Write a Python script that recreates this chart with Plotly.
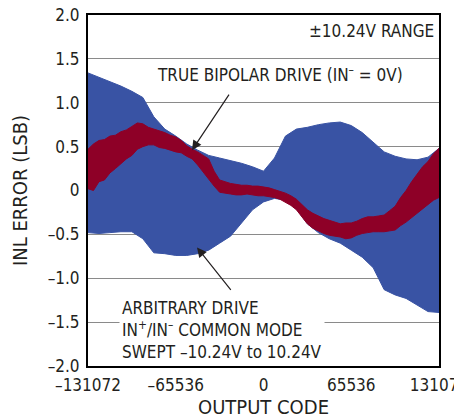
import plotly.graph_objects as go

# Output codes (x) at which the blue envelope was read
codes = [-131072 + i * 8192 for i in range(33)]

# Arbitrary drive (blue band) envelope, LSB
blue_upper = [1.34, 1.29, 1.24, 1.19, 1.13, 1.06, 0.84, 0.70, 0.62, 0.53, 0.46,
              0.40, 0.37, 0.34, 0.31, 0.27, 0.22, 0.37, 0.62, 0.70, 0.72, 0.75,
              0.77, 0.78, 0.74, 0.66, 0.55, 0.44, 0.39, 0.36, 0.35, 0.38, 0.48]
blue_lower = [-0.48, -0.49, -0.48, -0.47, -0.47, -0.55, -0.71, -0.72, -0.74, -0.74, -0.72,
              -0.68, -0.60, -0.52, -0.37, -0.22, -0.13, -0.09, -0.11, -0.21, -0.38, -0.48,
              -0.55, -0.60, -0.68, -0.76, -0.88, -1.13, -1.19, -1.23, -1.30, -1.38, -1.39]

# Output codes at which the red envelope was read
red_codes = [-131072 + i * 4096 for i in range(65)]

# True bipolar drive (red band) envelope, LSB
red_upper = [0.47, 0.53, 0.57, 0.58, 0.62, 0.63, 0.67, 0.69, 0.73, 0.77, 0.76,
             0.72, 0.70, 0.68, 0.66, 0.63, 0.61, 0.57, 0.51, 0.47, 0.44, 0.40,
             0.36, 0.22, 0.12, 0.10, 0.08, 0.07, 0.06, 0.06, 0.05, 0.05, 0.04,
             0.03, 0.01, -0.01, -0.03, -0.06, -0.10, -0.16, -0.22, -0.26, -0.29,
             -0.32, -0.34, -0.36, -0.38, -0.37, -0.37, -0.35, -0.32, -0.30, -0.30,
             -0.29, -0.28, -0.23, -0.18, -0.08, 0.00, 0.10, 0.18, 0.27, 0.33, 0.42, 0.48]
red_lower = [0.02, 0.00, 0.10, 0.12, 0.20, 0.25, 0.30, 0.36, 0.40, 0.47, 0.50,
             0.52, 0.52, 0.49, 0.48, 0.46, 0.44, 0.43, 0.39, 0.36, 0.29, 0.22,
             0.13, 0.05, -0.02, -0.03, -0.04, -0.05, -0.05, -0.04, -0.05, -0.06, -0.06,
             -0.07, -0.08, -0.10, -0.13, -0.17, -0.22, -0.30, -0.38, -0.43, -0.46,
             -0.49, -0.51, -0.52, -0.53, -0.55, -0.54, -0.51, -0.49, -0.48, -0.47,
             -0.47, -0.47, -0.46, -0.45, -0.40, -0.36, -0.31, -0.27, -0.21, -0.16, -0.11, -0.08]

y_ticks = [-2.0, -1.5, -1.0, -0.5, 0, 0.5, 1.0, 1.5, 2.0]
y_ticktext = ["–2.0", "–1.5", "–1.0", "–0.5", "0", "0.5", "1.0", "1.5", "2.0"]
x_ticks = [-131072, -65536, 0, 65536, 131072]
x_ticktext = ["–131072", "–65536", "0", "65536", "131072"]

BLUE = "#3953A4"
RED = "#8E0027"
INK = "#231f20"
FONT = "DejaVu Sans Condensed, Liberation Sans, sans-serif"

fig = go.Figure()
fig.add_trace(go.Scatter(
    x=codes + codes[::-1], y=blue_upper + blue_lower[::-1],
    fill="toself", fillcolor=BLUE, mode="lines",
    line=dict(color=BLUE, width=1), hoverinfo="skip", showlegend=False))
fig.add_trace(go.Scatter(
    x=red_codes + red_codes[::-1], y=red_upper + red_lower[::-1],
    fill="toself", fillcolor=RED, mode="lines",
    line=dict(color=RED, width=1), hoverinfo="skip", showlegend=False))

# page body has an 8px default margin, so the figure is sized/offset for it
fig.update_layout(
    width=454, height=411,
    margin=dict(l=80, r=23, t=7, b=53),
    paper_bgcolor="white", plot_bgcolor="white",
    font=dict(family=FONT, size=17, color=INK),
    showlegend=False,
)
fig.update_xaxes(
    range=[-131072, 131072], tickvals=x_ticks, ticktext=x_ticktext,
    showgrid=False, zeroline=False, showline=True, linecolor="black",
    linewidth=2, mirror=True, ticks="", ticklabeloverflow="allow",
    automargin=False, ticklabelstandoff=3,
    title=dict(text="OUTPUT CODE", standoff=6),
)
fig.update_yaxes(
    range=[-2, 2], tickvals=y_ticks, ticktext=y_ticktext,
    showgrid=True, gridcolor="#8a8a8a", gridwidth=1, zeroline=False,
    showline=True, linecolor="black", linewidth=2, mirror=True, ticks="",
    automargin=False, ticklabelstandoff=3, ticklabeloverflow="allow",
    title=dict(text="INL ERROR (LSB)", standoff=18),
)

fig.add_annotation(x=128828, y=1.815, xref="x", yref="y", text="±10.24V RANGE",
                   showarrow=False, xanchor="right", yanchor="middle")
fig.add_annotation(x=-81034, y=1.326, xref="x", yref="y",
                   text="TRUE BIPOLAR DRIVE (IN<sup>–</sup> = 0V)",
                   showarrow=False, xanchor="left", yanchor="middle")
fig.add_annotation(x=-108000, y=-1.59, xref="x", yref="y",
                   text="ARBITRARY DRIVE<br>IN<sup>+</sup>/IN<sup>–</sup> COMMON MODE<br>SWEPT –10.24V to 10.24V",
                   showarrow=False, xanchor="left", yanchor="middle", align="left",
                   bgcolor="white", borderpad=2)
# arrows
fig.add_annotation(x=-53401, y=0.46, ax=-25022, ay=1.11, xref="x", yref="y",
                   axref="x", ayref="y", text="", showarrow=True, arrowhead=2,
                   arrowsize=1.6, arrowwidth=1.2, arrowcolor=INK)
fig.add_annotation(x=-49667, y=-0.65, ax=-23527, ay=-1.15, xref="x", yref="y",
                   axref="x", ayref="y", text="", showarrow=True, arrowhead=2,
                   arrowsize=1.6, arrowwidth=1.2, arrowcolor=INK)

fig.write_html("out.html")
